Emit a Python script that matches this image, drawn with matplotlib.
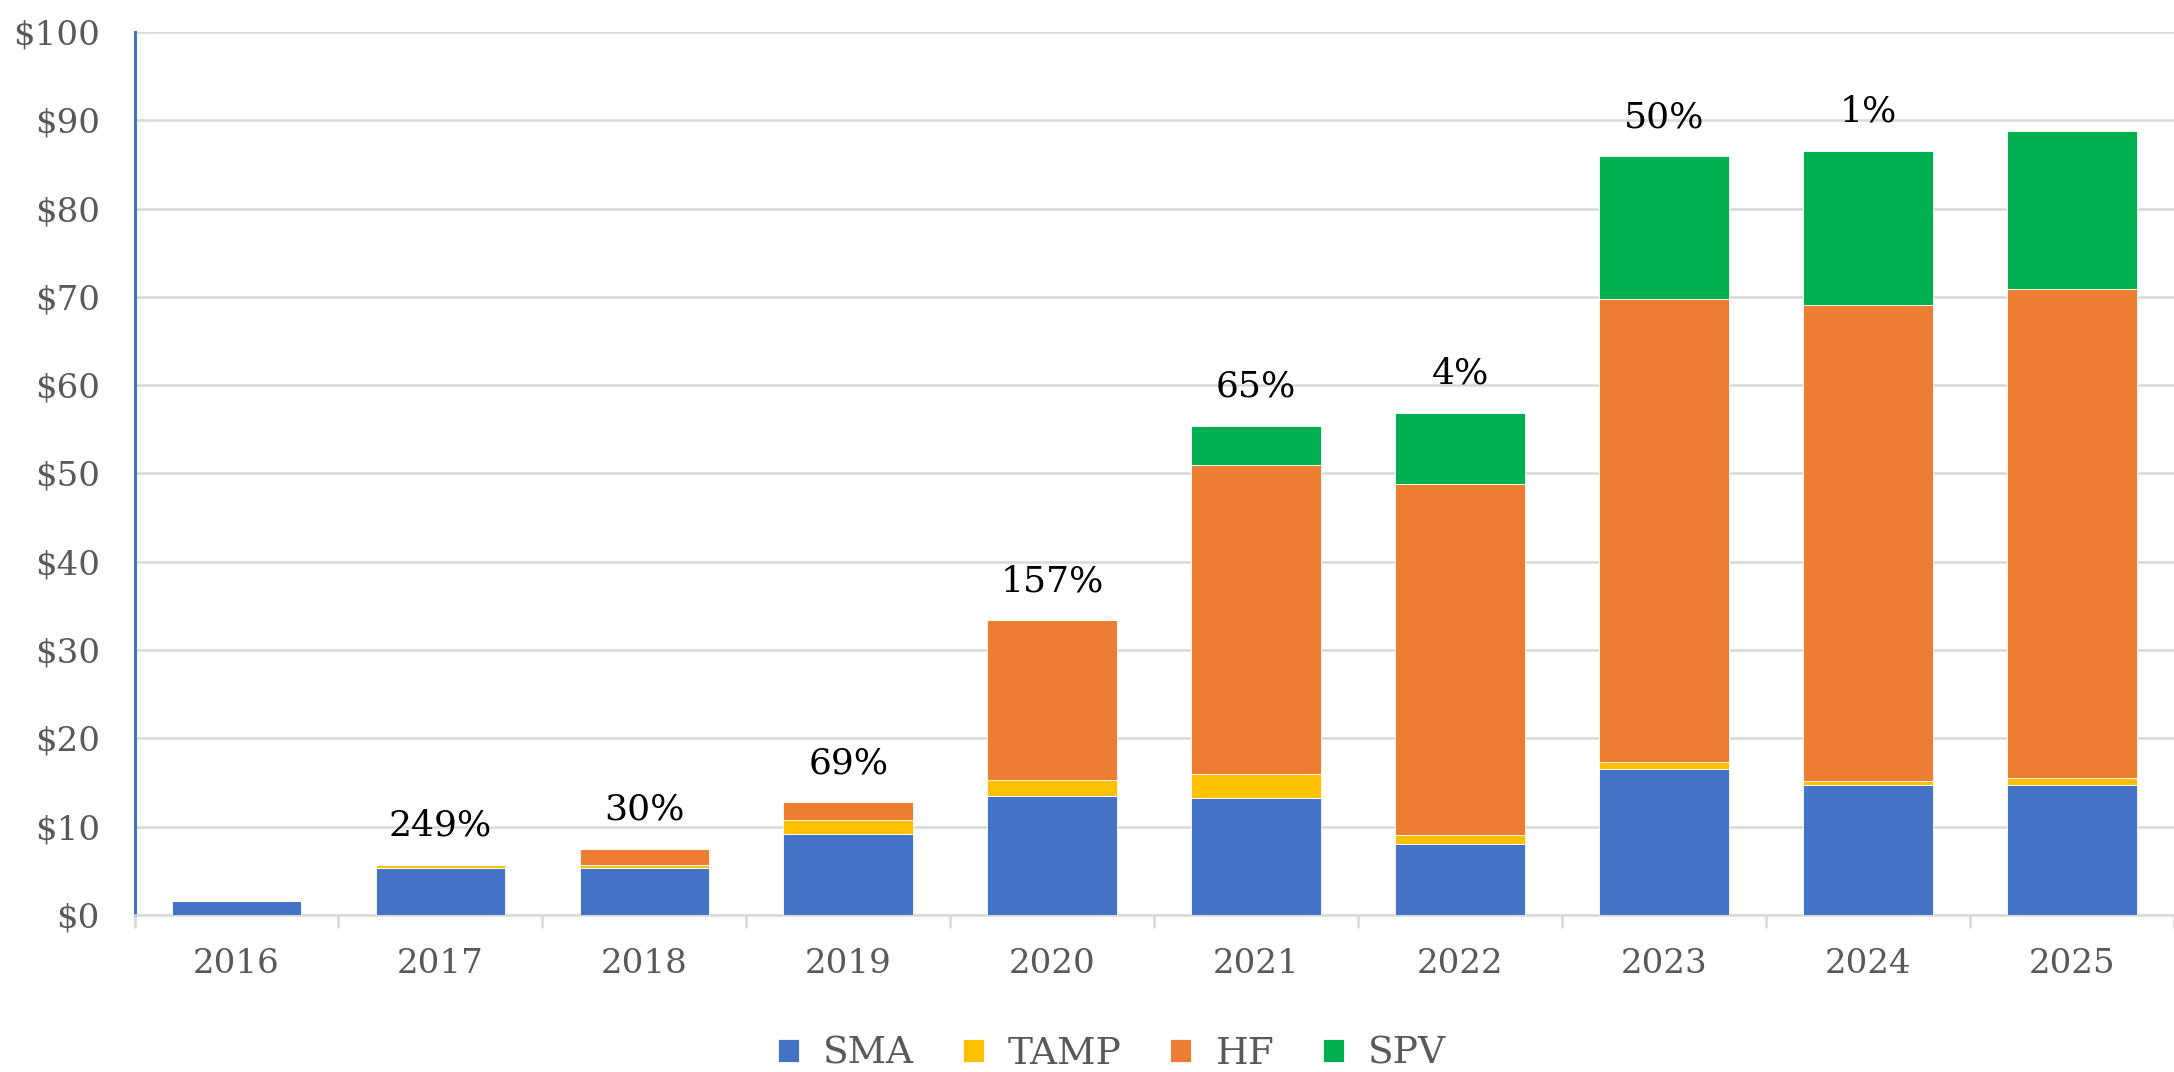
import numpy as np
import matplotlib
matplotlib.use('Agg')
import matplotlib.pyplot as plt

years = ['2016', '2017', '2018', '2019', '2020', '2021', '2022', '2023', '2024', '2025']
sma = [1.55, 5.3, 5.3, 9.2, 13.5, 13.2, 8.0, 16.5, 14.7, 14.7]
tamp = [0.0, 0.4, 0.4, 1.5, 1.8, 2.8, 1.05, 0.8, 0.45, 0.8]
hf = [0.0, 0.0, 1.8, 2.1, 18.1, 35.0, 39.75, 52.5, 53.9, 55.4]
spv = [0.0, 0.0, 0.0, 0.0, 0.0, 4.4, 8.1, 16.1, 17.5, 17.85]
growth = ['', '249%', '30%', '69%', '157%', '65%', '4%', '50%', '1%', '']

series = [('SMA', sma, '#4472C4'), ('TAMP', tamp, '#FFC000'),
          ('HF', hf, '#ED7D31'), ('SPV', spv, '#00B050')]

plt.rcParams['font.family'] = 'DejaVu Serif'
grey = '#595959'
grid = '#D9D9D9'

fig = plt.figure(figsize = (21.74, 10.72), dpi = 100)
ax = fig.add_axes([134.5 / 2174, 0.1465, 1 - 134.5 / 2174, 0.97015 - 0.1465])

x = np.arange(len(years))
bottom = np.zeros(len(years))
for name, vals, color in series:
    ax.bar(x, vals, 0.636, bottom = bottom, color = color, label = name,
           edgecolor = 'white', linewidth = 0.6, zorder = 3)
    bottom += np.array(vals)

for i, txt in enumerate(growth):
    if txt:
        ax.annotate(txt, (x[i], bottom[i]), xytext = (0, 28), textcoords = 'offset points',
                    ha = 'center', va = 'center', fontsize = 26, color = 'black')

ax.set_ylim(0, 100)
ax.set_xlim(-0.5, 9.473)
ax.set_yticks(np.arange(0, 101, 10))
ax.set_yticklabels(['$%d' % v for v in range(0, 101, 10)])
ax.yaxis.grid(True, color = grid, linewidth = 1.8, zorder = 0)
ax.set_axisbelow(True)

ax.set_xticks(x)
ax.set_xticklabels(years)
ax.set_xticks(np.arange(-0.5, 9.6, 1), minor = True)
ax.tick_params(axis = 'x', which = 'major', length = 0, pad = 24, labelsize = 24.5, labelcolor = grey)
ax.tick_params(axis = 'x', which = 'minor', length = 9, width = 1.8, color = grid, direction = 'out')
ax.tick_params(axis = 'y', length = 0, pad = 25, labelsize = 24.5, labelcolor = grey)

for s in ['top', 'right']:
    ax.spines[s].set_visible(False)
ax.spines['left'].set_color('#4472C4')
ax.spines['left'].set_linewidth(2.2)
ax.spines['bottom'].set_color(grid)
ax.spines['bottom'].set_linewidth(1.8)

fig.legend(loc = 'center', bbox_to_anchor = (0.5115, 0.017), ncol = 4, frameon = False,
           fontsize = 27, handlelength = 0.56, handleheight = 0.56, handletextpad = 0.64,
           columnspacing = 1.3, labelcolor = grey)

fig.savefig('out.png', dpi = 100)
